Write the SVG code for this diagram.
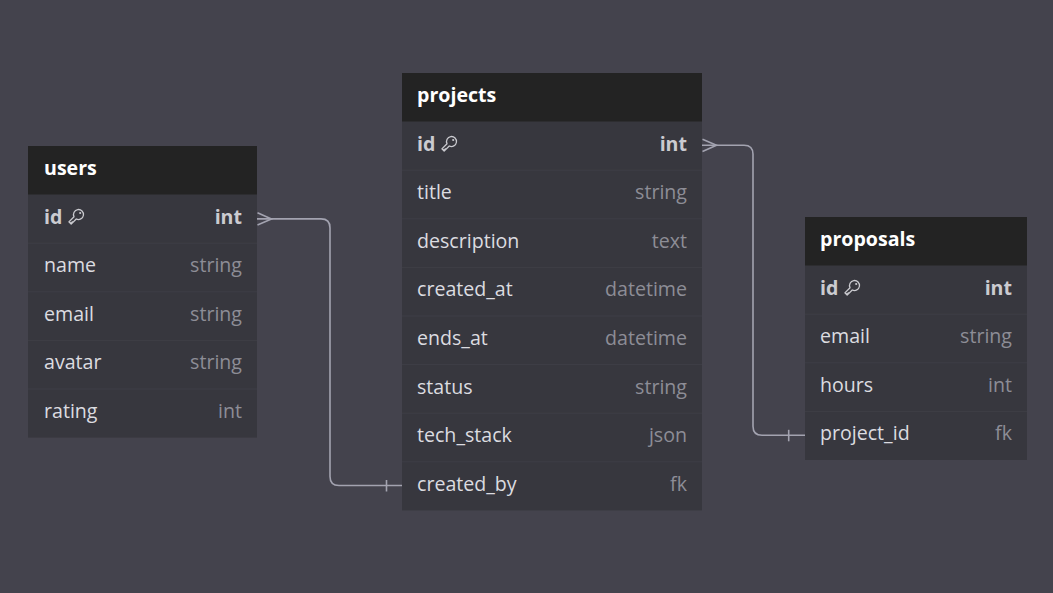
<svg xmlns="http://www.w3.org/2000/svg" width="1053" height="593" viewBox="0 0 1053 593">
<defs>
<style>
.bg{fill:#44434d}
.hdr{fill:#232323}
.body{fill:#37373e}
.sep{stroke:#3e3e46;stroke-width:1}
.ttl{font-family:"Open Sans","Liberation Sans",sans-serif;font-size:19.6px;font-weight:700;fill:#ffffff}
.nm{font-family:"Open Sans","Liberation Sans",sans-serif;font-size:19.6px;fill:#dcdce0}
.ty{font-family:"Open Sans","Liberation Sans",sans-serif;font-size:19.6px;fill:#8d8d96;text-anchor:end}
.pk{font-weight:700;fill:#cbcbd0}
.key{fill:none;stroke:#cbcbd0;stroke-width:1.3;stroke-linejoin:round}
.edge{fill:none;stroke:#a3a3b0;stroke-width:1.6}
</style>
<symbol id="keyicon" viewBox="0 0 16 16" overflow="visible">
<path class="key" d="M8.28 9.98 L3.15 15.11 L0.89 12.85 L6.02 7.72 A5 5 0 1 1 8.28 9.98 Z M2.3 14.3 L3.6 13 M4.2 12.4 L5.2 13.4"/>
<circle cx="12.2" cy="4" r="1.1" fill="#cbcbd0"/>
</symbol>
</defs>
<rect class="bg" x="0" y="0" width="1053" height="593"/>

<g id="users">
<rect class="body" x="28" y="194.6" width="229" height="243"/>
<rect class="hdr" x="28" y="146" width="229" height="48.6"/>
<line class="sep" x1="28" y1="243.2" x2="257" y2="243.2"/>
<line class="sep" x1="28" y1="291.8" x2="257" y2="291.8"/>
<line class="sep" x1="28" y1="340.4" x2="257" y2="340.4"/>
<line class="sep" x1="28" y1="389" x2="257" y2="389"/>
<text class="ttl" x="44" y="175">users</text>
<text class="nm pk" x="44" y="223.6">id</text>
<use href="#keyicon" x="68" y="209" width="16" height="16"/>
<text class="ty pk" x="242" y="223.6">int</text>
<text class="nm" x="44" y="272.2">name</text><text class="ty" x="242" y="272.2">string</text>
<text class="nm" x="44" y="320.8">email</text><text class="ty" x="242" y="320.8">string</text>
<text class="nm" x="44" y="369.4">avatar</text><text class="ty" x="242" y="369.4">string</text>
<text class="nm" x="44" y="418">rating</text><text class="ty" x="242" y="418">int</text>
</g>

<g id="projects">
<rect class="body" x="402" y="121.6" width="300" height="388.8"/>
<rect class="hdr" x="402" y="73" width="300" height="48.6"/>
<line class="sep" x1="402" y1="170.2" x2="702" y2="170.2"/>
<line class="sep" x1="402" y1="218.8" x2="702" y2="218.8"/>
<line class="sep" x1="402" y1="267.4" x2="702" y2="267.4"/>
<line class="sep" x1="402" y1="316" x2="702" y2="316"/>
<line class="sep" x1="402" y1="364.6" x2="702" y2="364.6"/>
<line class="sep" x1="402" y1="413.2" x2="702" y2="413.2"/>
<line class="sep" x1="402" y1="461.8" x2="702" y2="461.8"/>
<text class="ttl" x="417" y="102">projects</text>
<text class="nm pk" x="417" y="150.6">id</text>
<use href="#keyicon" x="441" y="136" width="16" height="16"/>
<text class="ty pk" x="687" y="150.6">int</text>
<text class="nm" x="417" y="199.2">title</text><text class="ty" x="687" y="199.2">string</text>
<text class="nm" x="417" y="247.8">description</text><text class="ty" x="687" y="247.8">text</text>
<text class="nm" x="417" y="296.4">created_at</text><text class="ty" x="687" y="296.4">datetime</text>
<text class="nm" x="417" y="345">ends_at</text><text class="ty" x="687" y="345">datetime</text>
<text class="nm" x="417" y="393.6">status</text><text class="ty" x="687" y="393.6">string</text>
<text class="nm" x="417" y="442.2">tech_stack</text><text class="ty" x="687" y="442.2">json</text>
<text class="nm" x="417" y="490.8">created_by</text><text class="ty" x="687" y="490.8">fk</text>
</g>

<g id="proposals">
<rect class="body" x="805" y="265.6" width="222" height="194.4"/>
<rect class="hdr" x="805" y="217" width="222" height="48.6"/>
<line class="sep" x1="805" y1="314.2" x2="1027" y2="314.2"/>
<line class="sep" x1="805" y1="362.8" x2="1027" y2="362.8"/>
<line class="sep" x1="805" y1="411.4" x2="1027" y2="411.4"/>
<text class="ttl" x="820" y="246">proposals</text>
<text class="nm pk" x="820" y="294.6">id</text>
<use href="#keyicon" x="844" y="280" width="16" height="16"/>
<text class="ty pk" x="1012" y="294.6">int</text>
<text class="nm" x="820" y="343.2">email</text><text class="ty" x="1012" y="343.2">string</text>
<text class="nm" x="820" y="391.8">hours</text><text class="ty" x="1012" y="391.8">int</text>
<text class="nm" x="820" y="440.4">project_id</text><text class="ty" x="1012" y="440.4">fk</text>
</g>

<g id="connectors">
<path class="edge" d="M257 218.9 H321 Q330 218.9 330 227.9 V476.5 Q330 485.5 339 485.5 H402"/>
<path class="edge" d="M257.5 212.8 L271.5 218.9 L257.5 225"/>
<line class="edge" x1="386.5" y1="480" x2="386.5" y2="491.5"/>
<path class="edge" d="M702 145.3 H744 Q753 145.3 753 154.3 V426.3 Q753 435.3 762 435.3 H805"/>
<path class="edge" d="M702.5 139.2 L716.5 145.3 L702.5 151.4"/>
<line class="edge" x1="788.7" y1="429.8" x2="788.7" y2="441.3"/>
</g>
</svg>
